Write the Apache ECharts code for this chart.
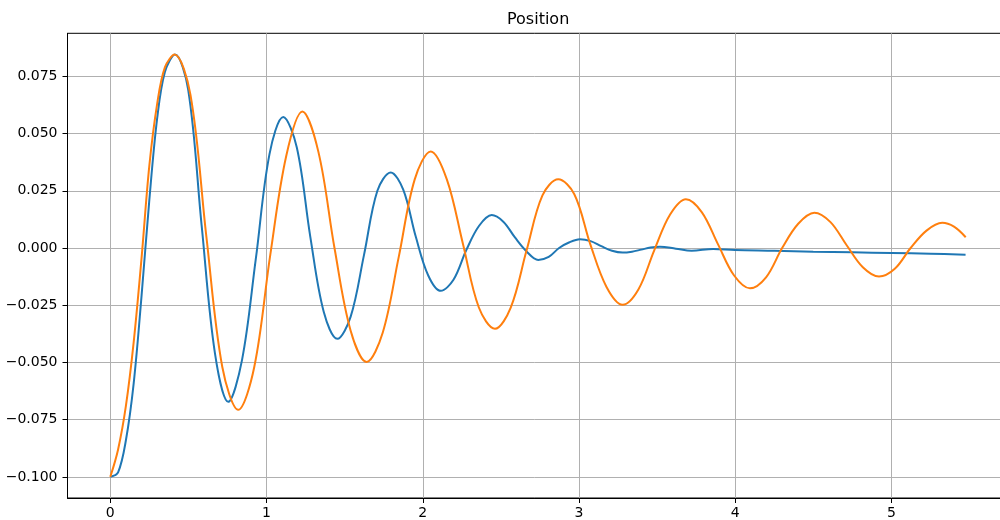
<!DOCTYPE html>
<html><head><meta charset="utf-8">
<script src="https://cdn.jsdelivr.net/npm/echarts@6/dist/echarts.min.js"></script>
<style>html,body{margin:0;padding:0;background:#fff}#c{width:1000px;height:520px}</style>
</head><body><div id="c"></div>
<script>
const titleText = 'Position';
const blueX = [0, 0.05, 0.1, 0.15, 0.2, 0.25, 0.3, 0.35, 0.414, 0.499, 0.5845, 0.670, 0.755, 0.843, 0.931, 1.019, 1.107, 1.1935, 1.28, 1.3665, 1.453, 1.5385, 1.624, 1.7095, 1.795, 1.875, 1.955, 2.035, 2.115, 2.1965, 2.278, 2.3595, 2.441, 2.5155, 2.59, 2.6645, 2.739, 2.806, 2.8725, 2.939, 3.006, 3.074, 3.1425, 3.211, 3.279, 3.339, 3.3985, 3.458, 3.518, 3.62, 3.721, 3.859, 3.998, 4.25, 4.499, 4.75, 5.001, 5.25, 5.474];
const blueY = [-0.1, -0.098, -0.084, -0.059, -0.021, 0.021, 0.0566, 0.077, 0.0845, 0.069, 0.010, -0.046, -0.0672, -0.049, -0.005, 0.041, 0.0572, 0.044, 0.005, -0.028, -0.0397, -0.030, -0.003, 0.025, 0.0330, 0.0255, 0.005, -0.012, -0.0187, -0.0139, -0.001, 0.0096, 0.0144, 0.0115, 0.0046, -0.0015, -0.0052, -0.0039, 0, 0.0025, 0.0038, 0.003, 0.0008, -0.0012, -0.0020, -0.0016, -0.0007, 0.0002, 0.0006, -0.0003, -0.0012, -0.0004, -0.0009, -0.0012, -0.0016, -0.0019, -0.0022, -0.0025, -0.0029];
const orangeX = [0, 0.05, 0.1, 0.15, 0.2, 0.25, 0.3, 0.35, 0.411, 0.513, 0.615, 0.717, 0.819, 0.9215, 1.024, 1.1265, 1.229, 1.332, 1.435, 1.538, 1.641, 1.7435, 1.846, 1.9485, 2.051, 2.154, 2.2565, 2.359, 2.462, 2.563, 2.6645, 2.766, 2.867, 2.97, 3.073, 3.176, 3.279, 3.380, 3.4815, 3.583, 3.684, 3.7865, 3.889, 3.9915, 4.094, 4.197, 4.300, 4.403, 4.506, 4.6095, 4.713, 4.8165, 4.920, 5.021, 5.1225, 5.224, 5.325, 5.4, 5.475];
const orangeY = [-0.1, -0.088, -0.069, -0.041, -0.0045, 0.036, 0.063, 0.079, 0.0845, 0.067, 0.005, -0.052, -0.0707, -0.052, -0.003, 0.0403, 0.0596, 0.042, 0, -0.036, -0.0498, -0.037, -0.004, 0.030, 0.0422, 0.030, 0.002, -0.026, -0.0353, -0.026, -0.001, 0.023, 0.0300, 0.0235, 0.0015, -0.017, -0.0248, -0.0181, -0.001, 0.0146, 0.0213, 0.0156, 0.0017, -0.0119, -0.0176, -0.0128, 0, 0.0106, 0.0154, 0.0113, 0.0012, -0.0084, -0.0125, -0.0091, 0, 0.0076, 0.0110, 0.0093, 0.0047];
const xTicks = [0, 1, 2, 3, 4, 5];
const yTicks = [-0.1, -0.075, -0.05, -0.025, 0, 0.025, 0.05, 0.075];

const font = 'DejaVu Sans';
const zip = (xs, ys) => xs.map((x, i) => [x, ys[i]]);
const fmtY = v => { const s = Math.abs(v) < 1e-12 ? '0.000' : v.toFixed(3); return s.replace('-', '\u2212'); };

const chart = echarts.init(document.getElementById('c'), null, {renderer: 'canvas'});
chart.setOption({
  animation: false,
  backgroundColor: '#fff',
  title: {text: titleText, left: 507, top: 12, padding: 0,
    textStyle: {fontFamily: font, fontSize: 16, fontWeight: 'normal', color: '#000'}},
  grid: {left: 67.5, top: 33.3, width: 941, bottom: 22, containLabel: false, outerBoundsMode: 'none',
    show: true, borderColor: '#000', borderWidth: 1, backgroundColor: 'transparent'},
  xAxis: {
    type: 'value', min: -0.2738, max: 5.7488,
    axisLine: {show: true, onZero: false, lineStyle: {color: '#000', width: 1}},
    axisTick: {show: true, length: 5, lineStyle: {color: '#000'}, customValues: xTicks},
    axisLabel: {customValues: xTicks, margin: 8, fontFamily: font, fontSize: 14, color: '#000', formatter: v => String(v)},
    splitLine: {show: true, lineStyle: {color: '#b0b0b0', width: 1}}
  },
  yAxis: {
    type: 'value', min: -0.10923, max: 0.09381,
    axisLine: {show: true, onZero: false, lineStyle: {color: '#000', width: 1}},
    axisTick: {show: true, length: 5, lineStyle: {color: '#000'}, customValues: yTicks},
    axisLabel: {customValues: yTicks, margin: 10, fontFamily: font, fontSize: 14, color: '#000', formatter: fmtY},
    splitLine: {show: true, lineStyle: {color: '#b0b0b0', width: 1}}
  },
  series: [
    {type: 'line', data: zip(blueX, blueY), showSymbol: false, smooth: 0.35, lineStyle: {color: '#1f77b4', width: 2}, itemStyle: {color: '#1f77b4'}},
    {type: 'line', data: zip(orangeX, orangeY), showSymbol: false, smooth: 0.35, lineStyle: {color: '#ff7f0e', width: 2}, itemStyle: {color: '#ff7f0e'}}
  ]
});
</script>
</body></html>
